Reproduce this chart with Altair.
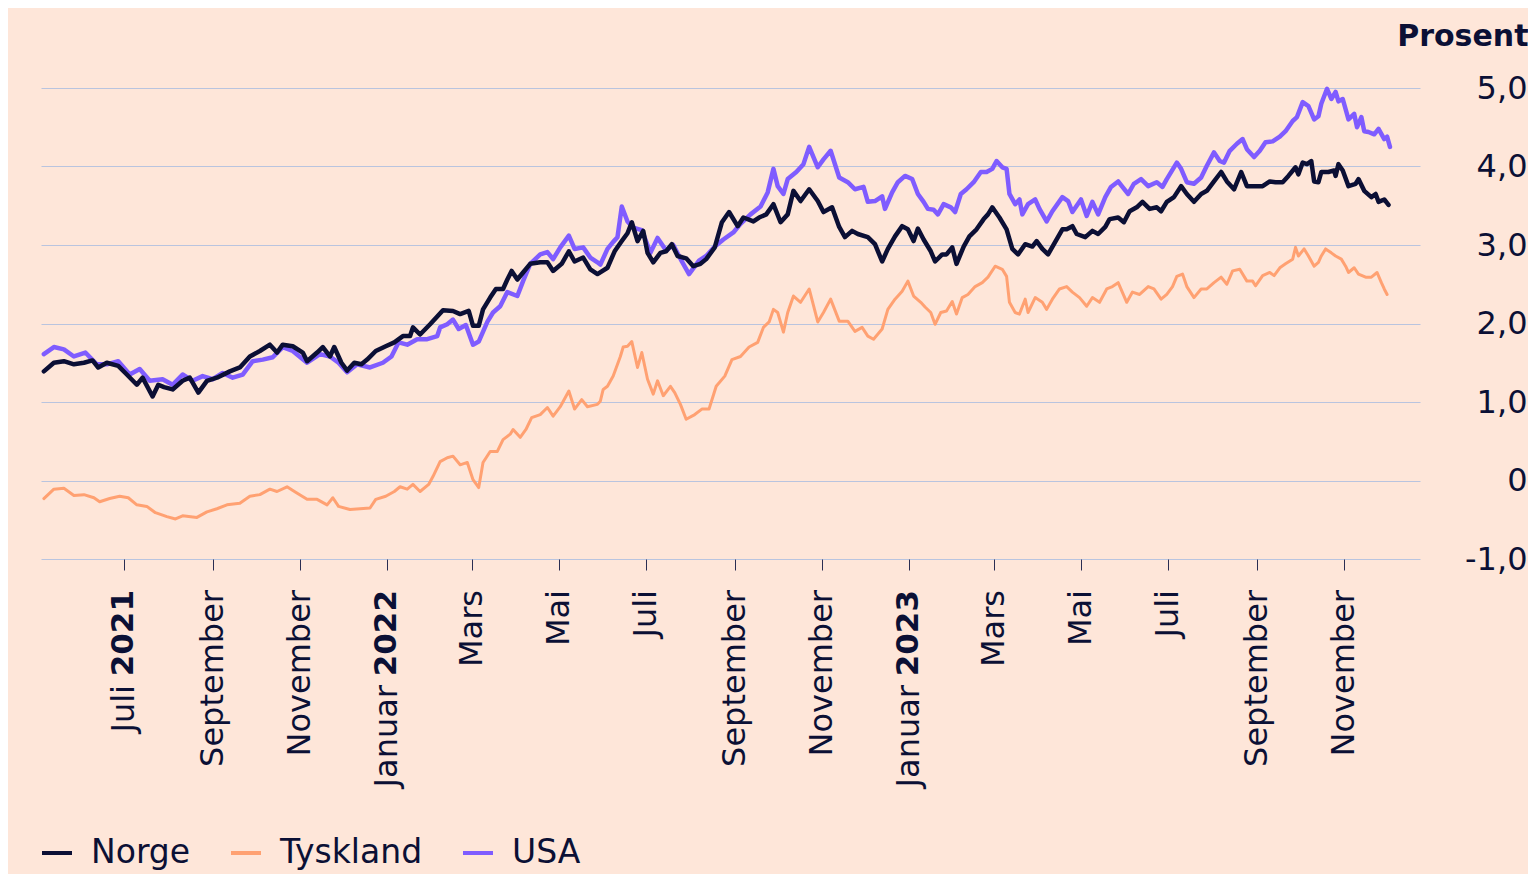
import altair as alt
import pandas as pd

# ---------------- data ----------------
norge_dates = [
    "2021-05-06", "2021-05-13", "2021-05-20", "2021-05-27", "2021-06-03", "2021-06-09", "2021-06-13",
    "2021-06-19", "2021-06-27", "2021-07-03", "2021-07-10", "2021-07-14", "2021-07-21", "2021-07-25",
    "2021-07-29", "2021-08-04", "2021-08-11", "2021-08-16", "2021-08-22", "2021-08-28", "2021-09-04",
    "2021-09-13", "2021-09-20", "2021-09-27", "2021-10-04", "2021-10-11", "2021-10-16", "2021-10-20",
    "2021-10-27", "2021-11-03", "2021-11-06", "2021-11-13", "2021-11-17", "2021-11-22", "2021-11-25",
    "2021-11-30", "2021-12-04", "2021-12-09", "2021-12-14", "2021-12-18", "2021-12-24", "2021-12-31",
    "2022-01-06", "2022-01-12", "2022-01-17", "2022-01-19", "2022-01-24", "2022-01-31", "2022-02-05",
    "2022-02-09", "2022-02-16", "2022-02-21", "2022-02-27", "2022-03-02", "2022-03-06", "2022-03-09",
    "2022-03-14", "2022-03-18", "2022-03-23", "2022-03-26", "2022-03-29", "2022-04-02", "2022-04-06",
    "2022-04-11", "2022-04-18", "2022-04-23", "2022-04-27", "2022-05-03", "2022-05-08", "2022-05-12",
    "2022-05-18", "2022-05-23", "2022-05-28", "2022-06-04", "2022-06-09", "2022-06-14", "2022-06-18",
    "2022-06-21", "2022-06-25", "2022-06-29", "2022-07-02", "2022-07-06", "2022-07-11", "2022-07-15",
    "2022-07-19", "2022-07-23", "2022-07-29", "2022-08-03", "2022-08-08", "2022-08-12", "2022-08-18",
    "2022-08-23", "2022-08-28", "2022-09-03", "2022-09-07", "2022-09-14", "2022-09-18", "2022-09-23",
    "2022-09-28", "2022-10-03", "2022-10-08", "2022-10-12", "2022-10-17", "2022-10-23", "2022-10-29",
    "2022-11-02", "2022-11-08", "2022-11-13", "2022-11-17", "2022-11-22", "2022-11-26", "2022-12-03",
    "2022-12-08", "2022-12-13", "2022-12-17", "2022-12-22", "2022-12-27", "2022-12-31", "2023-01-04",
    "2023-01-07", "2023-01-11", "2023-01-16", "2023-01-19", "2023-01-24", "2023-01-27", "2023-01-31",
    "2023-02-03", "2023-02-08", "2023-02-12", "2023-02-17", "2023-02-22", "2023-02-25", "2023-02-28",
    "2023-03-05", "2023-03-10", "2023-03-14", "2023-03-18", "2023-03-23", "2023-03-28", "2023-03-31",
    "2023-04-04", "2023-04-08", "2023-04-13", "2023-04-18", "2023-04-21", "2023-04-25", "2023-04-28",
    "2023-05-04", "2023-05-09", "2023-05-13", "2023-05-18", "2023-05-21", "2023-05-27", "2023-05-31",
    "2023-06-04", "2023-06-09", "2023-06-13", "2023-06-18", "2023-06-23", "2023-06-26", "2023-06-30",
    "2023-07-05", "2023-07-10", "2023-07-14", "2023-07-19", "2023-07-24", "2023-07-28", "2023-08-02",
    "2023-08-07", "2023-08-11", "2023-08-16", "2023-08-21", "2023-08-25", "2023-08-30", "2023-09-05",
    "2023-09-10", "2023-09-14", "2023-09-19", "2023-09-23", "2023-09-28", "2023-09-30", "2023-10-03",
    "2023-10-06", "2023-10-09", "2023-10-11", "2023-10-14", "2023-10-16", "2023-10-21", "2023-10-25",
    "2023-10-26", "2023-10-28", "2023-10-31", "2023-11-04", "2023-11-09", "2023-11-11", "2023-11-15",
    "2023-11-20", "2023-11-23", "2023-11-25", "2023-11-29", "2023-12-02",
]
norge_values = [
    1.39, 1.50, 1.52, 1.48, 1.50, 1.53, 1.44, 1.50, 1.46, 1.35, 1.22, 1.31, 1.07, 1.22,
    1.19, 1.16, 1.27, 1.31, 1.12, 1.27, 1.31, 1.39, 1.44, 1.58, 1.65, 1.73, 1.63, 1.73,
    1.71, 1.63, 1.52, 1.63, 1.70, 1.58, 1.70, 1.50, 1.40, 1.50, 1.48, 1.54, 1.65, 1.71,
    1.76, 1.84, 1.84, 1.95, 1.86, 1.99, 2.09, 2.17, 2.16, 2.12, 2.16, 1.97, 1.97, 2.18,
    2.33, 2.44, 2.44, 2.56, 2.67, 2.56, 2.65, 2.76, 2.78, 2.78, 2.67, 2.76, 2.92, 2.79,
    2.84, 2.69, 2.63, 2.71, 2.92, 3.05, 3.15, 3.29, 3.05, 3.18, 2.90, 2.78, 2.90, 2.92,
    3.01, 2.86, 2.83, 2.73, 2.76, 2.82, 2.97, 3.29, 3.42, 3.24, 3.35, 3.30, 3.35, 3.39,
    3.52, 3.29, 3.39, 3.69, 3.56, 3.71, 3.56, 3.42, 3.48, 3.23, 3.10, 3.18, 3.14, 3.10,
    3.01, 2.79, 2.95, 3.11, 3.24, 3.20, 3.05, 3.21, 3.07, 2.92, 2.79, 2.88, 2.88, 2.97,
    2.76, 2.98, 3.11, 3.20, 3.33, 3.39, 3.48, 3.35, 3.20, 2.95, 2.88, 3.01, 2.98, 3.05,
    2.95, 2.88, 3.04, 3.20, 3.20, 3.24, 3.14, 3.10, 3.18, 3.14, 3.23, 3.33, 3.35, 3.29,
    3.43, 3.48, 3.55, 3.46, 3.48, 3.43, 3.55, 3.61, 3.75, 3.65, 3.55, 3.65, 3.69, 3.81,
    3.93, 3.81, 3.71, 3.93, 3.75, 3.75, 3.75, 3.81, 3.80, 3.80, 3.88, 3.99, 3.90, 4.05,
    4.03, 4.07, 3.81, 3.80, 3.93, 3.93, 3.95, 3.88, 4.03, 3.95, 3.75, 3.78, 3.84, 3.69,
    3.61, 3.65, 3.55, 3.58, 3.51,
]

tyskland_dates = [
    "2021-05-06", "2021-05-13", "2021-05-20", "2021-05-27", "2021-06-03", "2021-06-10", "2021-06-14",
    "2021-06-21", "2021-06-28", "2021-07-04", "2021-07-10", "2021-07-17", "2021-07-23", "2021-07-31",
    "2021-08-06", "2021-08-11", "2021-08-21", "2021-08-28", "2021-09-04", "2021-09-11", "2021-09-20",
    "2021-09-27", "2021-10-04", "2021-10-11", "2021-10-16", "2021-10-23", "2021-10-29", "2021-11-06",
    "2021-11-13", "2021-11-20", "2021-11-24", "2021-11-28", "2021-12-06", "2021-12-13", "2021-12-20",
    "2021-12-24", "2021-12-31", "2022-01-06", "2022-01-10", "2022-01-15", "2022-01-19", "2022-01-24",
    "2022-01-30", "2022-02-02", "2022-02-07", "2022-02-12", "2022-02-16", "2022-02-21", "2022-02-26",
    "2022-03-02", "2022-03-06", "2022-03-09", "2022-03-14", "2022-03-19", "2022-03-23", "2022-03-28",
    "2022-03-30", "2022-04-04", "2022-04-08", "2022-04-12", "2022-04-18", "2022-04-23", "2022-04-27",
    "2022-05-02", "2022-05-08", "2022-05-12", "2022-05-17", "2022-05-21", "2022-05-28", "2022-05-30",
    "2022-06-01", "2022-06-04", "2022-06-08", "2022-06-13", "2022-06-15", "2022-06-18", "2022-06-21",
    "2022-06-25", "2022-06-28", "2022-07-02", "2022-07-06", "2022-07-09", "2022-07-13", "2022-07-18",
    "2022-07-21", "2022-07-25", "2022-07-29", "2022-08-04", "2022-08-09", "2022-08-14", "2022-08-19",
    "2022-08-25", "2022-08-30", "2022-09-05", "2022-09-11", "2022-09-17", "2022-09-21", "2022-09-25",
    "2022-09-28", "2022-10-01", "2022-10-05", "2022-10-08", "2022-10-12", "2022-10-17", "2022-10-23",
    "2022-10-29", "2022-11-02", "2022-11-07", "2022-11-13", "2022-11-19", "2022-11-24", "2022-11-29",
    "2022-12-03", "2022-12-07", "2022-12-13", "2022-12-17", "2022-12-22", "2022-12-27", "2022-12-31",
    "2023-01-04", "2023-01-09", "2023-01-12", "2023-01-16", "2023-01-19", "2023-01-23", "2023-01-27",
    "2023-01-31", "2023-02-03", "2023-02-07", "2023-02-11", "2023-02-16", "2023-02-21", "2023-02-25",
    "2023-03-02", "2023-03-07", "2023-03-10", "2023-03-12", "2023-03-16", "2023-03-19", "2023-03-23",
    "2023-03-25", "2023-03-30", "2023-04-04", "2023-04-07", "2023-04-11", "2023-04-16", "2023-04-21",
    "2023-04-25", "2023-04-30", "2023-05-05", "2023-05-09", "2023-05-14", "2023-05-19", "2023-05-23",
    "2023-05-27", "2023-06-02", "2023-06-06", "2023-06-11", "2023-06-17", "2023-06-21", "2023-06-26",
    "2023-06-30", "2023-07-04", "2023-07-07", "2023-07-11", "2023-07-14", "2023-07-19", "2023-07-24",
    "2023-07-28", "2023-08-02", "2023-08-07", "2023-08-11", "2023-08-15", "2023-08-20", "2023-08-25",
    "2023-08-29", "2023-08-31", "2023-09-05", "2023-09-10", "2023-09-13", "2023-09-17", "2023-09-21",
    "2023-09-26", "2023-09-28", "2023-09-30", "2023-10-04", "2023-10-07", "2023-10-11", "2023-10-14",
    "2023-10-16", "2023-10-19", "2023-10-23", "2023-10-26", "2023-10-30", "2023-11-02", "2023-11-04",
    "2023-11-08", "2023-11-11", "2023-11-16", "2023-11-20", "2023-11-24", "2023-11-27", "2023-11-29",
    "2023-12-01",
]
tyskland_values = [
    -0.23, -0.11, -0.10, -0.19, -0.18, -0.22, -0.27, -0.23, -0.20, -0.22, -0.31, -0.33, -0.41, -0.46,
    -0.49, -0.45, -0.47, -0.40, -0.36, -0.31, -0.29, -0.20, -0.18, -0.11, -0.14, -0.08, -0.15, -0.24,
    -0.24, -0.31, -0.22, -0.33, -0.37, -0.36, -0.35, -0.24, -0.20, -0.14, -0.08, -0.11, -0.05, -0.14,
    -0.05, 0.05, 0.24, 0.29, 0.31, 0.20, 0.23, 0.01, -0.09, 0.23, 0.37, 0.37, 0.52, 0.59,
    0.65, 0.55, 0.65, 0.80, 0.84, 0.93, 0.82, 0.94, 1.14, 0.91, 1.03, 0.94, 0.97, 1.01,
    1.16, 1.20, 1.33, 1.58, 1.70, 1.71, 1.77, 1.44, 1.63, 1.29, 1.10, 1.27, 1.08, 1.20,
    1.12, 0.97, 0.78, 0.84, 0.91, 0.91, 1.20, 1.33, 1.54, 1.58, 1.70, 1.76, 1.95, 2.02,
    2.18, 2.14, 1.89, 2.14, 2.35, 2.27, 2.44, 2.02, 2.14, 2.31, 2.03, 2.03, 1.90, 1.95,
    1.84, 1.80, 1.93, 2.18, 2.31, 2.41, 2.54, 2.35, 2.27, 2.21, 2.14, 1.99, 2.14, 2.16,
    2.28, 2.12, 2.33, 2.37, 2.47, 2.52, 2.59, 2.73, 2.69, 2.60, 2.27, 2.14, 2.12, 2.31,
    2.14, 2.33, 2.27, 2.18, 2.31, 2.44, 2.47, 2.40, 2.33, 2.22, 2.33, 2.27, 2.44, 2.47,
    2.52, 2.27, 2.40, 2.37, 2.47, 2.44, 2.31, 2.37, 2.47, 2.60, 2.63, 2.47, 2.33, 2.44,
    2.44, 2.52, 2.59, 2.50, 2.67, 2.69, 2.54, 2.54, 2.48, 2.61, 2.65, 2.61, 2.71, 2.76,
    2.82, 2.97, 2.86, 2.95, 2.86, 2.73, 2.78, 2.86, 2.95, 2.90, 2.86, 2.82, 2.73, 2.65,
    2.71, 2.63, 2.59, 2.59, 2.65, 2.52, 2.44, 2.37,
]

usa_dates = [
    "2021-05-06", "2021-05-13", "2021-05-20", "2021-05-27", "2021-06-04", "2021-06-12", "2021-06-19",
    "2021-06-27", "2021-07-05", "2021-07-12", "2021-07-19", "2021-07-28", "2021-08-04", "2021-08-11",
    "2021-08-18", "2021-08-25", "2021-09-01", "2021-09-08", "2021-09-15", "2021-09-22", "2021-09-29",
    "2021-10-06", "2021-10-13", "2021-10-20", "2021-10-27", "2021-11-06", "2021-11-15", "2021-11-22",
    "2021-11-28", "2021-12-04", "2021-12-11", "2021-12-20", "2021-12-29", "2022-01-04", "2022-01-09",
    "2022-01-15", "2022-01-22", "2022-01-29", "2022-02-05", "2022-02-07", "2022-02-12", "2022-02-16",
    "2022-02-20", "2022-02-25", "2022-03-02", "2022-03-06", "2022-03-12", "2022-03-16", "2022-03-21",
    "2022-03-26", "2022-04-02", "2022-04-06", "2022-04-11", "2022-04-18", "2022-04-23", "2022-04-27",
    "2022-05-02", "2022-05-08", "2022-05-12", "2022-05-18", "2022-05-23", "2022-05-28", "2022-05-30",
    "2022-06-04", "2022-06-08", "2022-06-11", "2022-06-14", "2022-06-18", "2022-06-22", "2022-06-28",
    "2022-07-04", "2022-07-09", "2022-07-15", "2022-07-20", "2022-07-26", "2022-07-31", "2022-08-07",
    "2022-08-12", "2022-08-18", "2022-08-24", "2022-08-31", "2022-09-05", "2022-09-12", "2022-09-19",
    "2022-09-24", "2022-09-28", "2022-10-01", "2022-10-05", "2022-10-08", "2022-10-14", "2022-10-19",
    "2022-10-23", "2022-10-29", "2022-11-02", "2022-11-07", "2022-11-13", "2022-11-19", "2022-11-24",
    "2022-11-30", "2022-12-03", "2022-12-08", "2022-12-13", "2022-12-15", "2022-12-20", "2022-12-24",
    "2022-12-29", "2023-01-03", "2023-01-07", "2023-01-11", "2023-01-14", "2023-01-18", "2023-01-21",
    "2023-01-25", "2023-01-30", "2023-02-02", "2023-02-06", "2023-02-10", "2023-02-15", "2023-02-20",
    "2023-02-24", "2023-02-28", "2023-03-03", "2023-03-07", "2023-03-10", "2023-03-12", "2023-03-16",
    "2023-03-19", "2023-03-21", "2023-03-25", "2023-03-30", "2023-04-02", "2023-04-07", "2023-04-11",
    "2023-04-18", "2023-04-22", "2023-04-25", "2023-05-01", "2023-05-05", "2023-05-09", "2023-05-13",
    "2023-05-18", "2023-05-22", "2023-05-27", "2023-05-30", "2023-06-03", "2023-06-07", "2023-06-12",
    "2023-06-17", "2023-06-23", "2023-06-27", "2023-06-30", "2023-07-07", "2023-07-10", "2023-07-14",
    "2023-07-19", "2023-07-24", "2023-07-28", "2023-08-02", "2023-08-06", "2023-08-09", "2023-08-13",
    "2023-08-18", "2023-08-22", "2023-08-25", "2023-08-30", "2023-09-03", "2023-09-07", "2023-09-12",
    "2023-09-17", "2023-09-21", "2023-09-26", "2023-09-29", "2023-10-03", "2023-10-07", "2023-10-11",
    "2023-10-14", "2023-10-16", "2023-10-20", "2023-10-23", "2023-10-26", "2023-10-28", "2023-10-31",
    "2023-11-04", "2023-11-08", "2023-11-10", "2023-11-13", "2023-11-15", "2023-11-18", "2023-11-22",
    "2023-11-25", "2023-11-29", "2023-12-01", "2023-12-03",
]
usa_values = [
    1.61, 1.70, 1.67, 1.58, 1.63, 1.48, 1.48, 1.52, 1.35, 1.42, 1.27, 1.29, 1.22, 1.35,
    1.27, 1.33, 1.29, 1.37, 1.31, 1.35, 1.52, 1.54, 1.57, 1.70, 1.65, 1.50, 1.61, 1.58,
    1.50, 1.38, 1.48, 1.44, 1.50, 1.58, 1.76, 1.73, 1.80, 1.80, 1.84, 1.95, 1.99, 2.05,
    1.93, 1.98, 1.73, 1.77, 2.02, 2.14, 2.22, 2.40, 2.35, 2.54, 2.76, 2.88, 2.91, 2.82,
    2.97, 3.12, 2.95, 2.97, 2.84, 2.78, 2.75, 2.95, 3.04, 3.10, 3.49, 3.30, 3.22, 3.19,
    2.90, 3.09, 2.93, 3.00, 2.79, 2.63, 2.80, 2.86, 2.98, 3.07, 3.16, 3.27, 3.39, 3.49,
    3.67, 3.97, 3.75, 3.65, 3.84, 3.93, 4.03, 4.25, 3.99, 4.09, 4.20, 3.86, 3.80, 3.71,
    3.74, 3.55, 3.56, 3.62, 3.46, 3.67, 3.80, 3.88, 3.84, 3.65, 3.55, 3.46, 3.45, 3.39,
    3.52, 3.48, 3.42, 3.65, 3.71, 3.80, 3.93, 3.93, 3.97, 4.07, 3.99, 3.97, 3.65, 3.52,
    3.58, 3.39, 3.52, 3.58, 3.46, 3.30, 3.43, 3.61, 3.56, 3.42, 3.58, 3.37, 3.55, 3.39,
    3.61, 3.74, 3.81, 3.74, 3.65, 3.78, 3.84, 3.75, 3.80, 3.74, 3.84, 4.05, 3.97, 3.80,
    3.78, 3.86, 4.01, 4.18, 4.07, 4.05, 4.20, 4.29, 4.35, 4.22, 4.12, 4.20, 4.31, 4.32,
    4.38, 4.45, 4.58, 4.63, 4.82, 4.77, 4.60, 4.64, 4.80, 4.99, 4.86, 4.95, 4.83, 4.86,
    4.60, 4.67, 4.50, 4.63, 4.45, 4.44, 4.41, 4.48, 4.35, 4.38, 4.25,
]

series_names = ["Norge", "Tyskland", "USA"]
series_colors = ["#0b0f35", "#ffa172", "#7f5cff"]

# x-axis month labels
label_dates = [
    "2021-07-01", "2021-09-01", "2021-11-01", "2022-01-01", "2022-03-01", "2022-05-01",
    "2022-07-01", "2022-09-01", "2022-11-01", "2023-01-01", "2023-03-01", "2023-05-01",
    "2023-07-01", "2023-09-01", "2023-11-01",
]
label_months = [
    "Juli", "September", "November", "Januar", "Mars", "Mai",
    "Juli", "September", "November", "Januar", "Mars", "Mai",
    "Juli", "September", "November",
]
label_years = ["2021", "", "", "2022", "", "", "", "", "", "2023", "", "", "", "", ""]

y_ticks = [-1, 0, 1, 2, 3, 4, 5]

# ---------------- build tables ----------------
frames = {}
for name, d, v in [("Norge", norge_dates, norge_values),
                   ("Tyskland", tyskland_dates, tyskland_values),
                   ("USA", usa_dates, usa_values)]:
    frames[name] = pd.DataFrame({"date": pd.to_datetime(d), "value": v, "serie": name})

labels = pd.DataFrame({
    "date": pd.to_datetime(label_dates),
    "month": label_months,
    "year": label_years,
})
labels_plain = labels[labels["year"] == ""]
labels_yearmonth = labels[labels["year"] != ""]

FONT = "DejaVu Sans"
TEXT = "#0b1035"
BG = "#fee6d9"
GRID = "#b9c4df"

W, H = 1379, 471


def dt(s):
    y, m, d = (int(p) for p in s.split("-"))
    return alt.DateTime(year=y, month=m, date=d)


x_enc = alt.X(
    "date:T",
    scale=alt.Scale(domain=[dt("2021-05-04"), dt("2023-12-24")], nice=False),
    axis=alt.Axis(
        values=[dt(s) for s in label_dates],
        labels=False, domain=False, grid=False, title=None,
        ticks=True, tickSize=11, tickWidth=1, tickColor="#2a2d52",
    ),
)

y_enc = alt.Y(
    "value:Q",
    scale=alt.Scale(domain=[-1, 5], nice=False, zero=False),
    axis=alt.Axis(
        orient="right", values=y_ticks,
        labelExpr="datum.value == 0 ? '0' : (datum.value < 0 ? '-' : '') + abs(datum.value) + ',0'",
        grid=True, gridColor=GRID, gridWidth=1,
        domain=False, ticks=False, tickSize=0,
        labelPadding=107, labelAlign="right", labelBaseline="middle",
        labelFont=FONT, labelFontSize=32, labelColor=TEXT,
        title="Prosent", titleAngle=0, titleAlign="right", titleBaseline="alphabetic",
        titleX=108, titleY=-43, titleFont=FONT, titleFontSize=30,
        titleFontWeight="bold", titleColor=TEXT,
    ),
)

color_enc = alt.Color(
    "serie:N",
    scale=alt.Scale(domain=series_names, range=series_colors),
    legend=alt.Legend(
        orient="none", legendX=-1, legendY=748, direction="horizontal", title=None,
        symbolType="stroke", symbolSize=900, symbolStrokeWidth=4,
        labelFont=FONT, labelFontSize=33, labelColor=TEXT,
        labelOffset=17, columnPadding=32, padding=0,
    ),
)

widths = {"Norge": 4.5, "Tyskland": 3, "USA": 4.5}
line_layers = []
for name in ["Tyskland", "USA", "Norge"]:
    line_layers.append(
        alt.Chart(frames[name]).mark_line(strokeWidth=widths[name], strokeJoin="round", strokeCap="round")
        .encode(x=x_enc, y=y_enc, color=color_enc)
    )

text_common = dict(angle=270, align="right", baseline="middle", font=FONT, color=TEXT)

months_plain = alt.Chart(labels_plain).mark_text(fontSize=32, **text_common).encode(
    x=x_enc, y=alt.value(H + 31), text="month:N"
)
months_with_year = alt.Chart(labels_yearmonth).mark_text(fontSize=32, dx=-95, **text_common).encode(
    x=x_enc, y=alt.value(H + 31), text="month:N"
)
years_bold = alt.Chart(labels_yearmonth).mark_text(fontSize=31, fontWeight="bold", **text_common).encode(
    x=x_enc, y=alt.value(H + 31), text="year:N"
)

chart = alt.layer(*line_layers, months_plain, months_with_year, years_bold).properties(
    width=W, height=H,
    autosize=alt.AutoSizeParams(type="none"),
    padding={"left": 33, "top": 80, "right": 108, "bottom": 315},
    background=BG,
).configure_view(stroke=None)

chart.save("out.html", embed_options={"renderer": "svg", "actions": False})
